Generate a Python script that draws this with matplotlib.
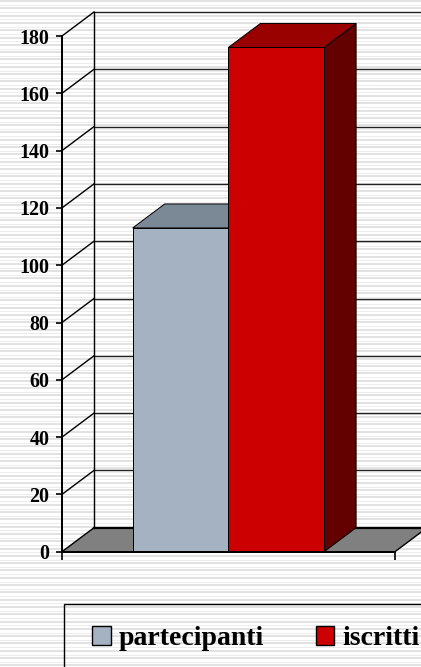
import matplotlib
matplotlib.use("Agg")
import matplotlib.pyplot as plt
from matplotlib.patches import Polygon, Rectangle
from matplotlib.lines import Line2D
import numpy as np

# ---- data ----
series = ["partecipanti", "iscritti"]
values = [113, 176]
yticks = [0, 20, 40, 60, 80, 100, 120, 140, 160, 180]

front_colors = ["#a4b2c1", "#cc0000"]
top_colors = ["#7b8895", "#990000"]
side_colors = ["#6b7682", "#630000"]

W, H, DPI = 421, 667, 100
fig = plt.figure(figsize=(W / DPI, H / DPI), dpi=DPI)
fig.patch.set_facecolor("white")

# striped background
bg = fig.add_axes([0, 0, 1, 1], zorder=-5)
bg.set_xlim(0, W)
bg.set_ylim(H, 0)
bg.axis("off")
for y0 in np.arange(1, H, 7.3):
    bg.axhline(y0, color="#dcdcdc", lw=1.6 * 0.72)
    bg.axhline(y0 + 3.8, color="#ececec", lw=1.0 * 0.72)

# main axes (front plane)
px_left, px_zero, px_top = 62, 551.7, 36.0
cat_px = 333.0
ax = fig.add_axes([px_left / W, (H - px_zero) / H, (W - px_left) / W, (px_zero - px_top) / H])
ax.set_facecolor("none")
ax.set_ylim(0, 180)
ax.set_xlim(0, (W - px_left) / cat_px)
ppu = (px_zero - px_top) / 180.0
DX = 32.0 / cat_px
DY = 24.0 / ppu
XR = 2.0  # beyond right edge

lw = 1.4 * 0.72
# floor
floor = Polygon([(0, 0), (1, 0), (1 + DX, DY), (XR, DY), (XR, DY), (DX, DY)],
                closed=True, facecolor="#808080", edgecolor="black", lw=lw, clip_on=False, zorder=1)
ax.add_patch(floor)
ax.plot([DX, XR], [DY, DY], color="black", lw=2.2 * 0.72, clip_on=False, zorder=1.5)

# walls gridlines
for v in yticks[1:]:
    ax.plot([0, DX], [v, v + DY], color="black", lw=lw, clip_on=False, zorder=1)
    ax.plot([DX, XR], [v + DY, v + DY], color="#222222", lw=lw, clip_on=False, zorder=1)
ax.plot([DX, DX], [DY, 180 + DY], color="black", lw=lw, clip_on=False, zorder=1)

# bars
gap = 70.7 / cat_px
bw = 95.7 / cat_px
for i, (v, fc, tc, sc) in enumerate(zip(values, front_colors, top_colors, side_colors)):
    x0 = gap + i * bw
    x1 = x0 + bw
    z = 3 + i
    ax.add_patch(Polygon([(x1, 0), (x1 + DX, DY), (x1 + DX, v + DY), (x1, v)], closed=True,
                         facecolor=sc, edgecolor="black", lw=1.0 * 0.72, clip_on=False, zorder=z))
    ax.add_patch(Polygon([(x0, v), (x1, v), (x1 + DX, v + DY), (x0 + DX, v + DY)], closed=True,
                         facecolor=tc, edgecolor="black", lw=1.0 * 0.72, clip_on=False, zorder=z))
    ax.add_patch(Rectangle((x0, 0), bw, v, facecolor=fc, edgecolor="black",
                           lw=1.0 * 0.72, clip_on=False, zorder=z))

# axes spines/ticks
for s in ["top", "right"]:
    ax.spines[s].set_visible(False)
ax.spines["left"].set_linewidth(2.0 * 0.72)
ax.spines["left"].set_zorder(6)
ax.spines["bottom"].set_bounds(0, 1)
ax.spines["bottom"].set_linewidth(2.0 * 0.72)
ax.spines["bottom"].set_zorder(6)
ax.set_yticks(yticks)
ax.set_yticklabels([str(t) for t in yticks], fontfamily="Liberation Serif",
                   fontweight="bold", fontsize=14.4)
ax.tick_params(axis="y", direction="out", length=4, width=1.2, pad=5, color="black")
ax.set_xticks([0, 1])
ax.set_xticklabels(["", ""])
ax.tick_params(axis="x", direction="out", length=6, width=1.2, color="black")

# legend
handles = [Rectangle((0, 0), 1, 1, facecolor=c, edgecolor="black", lw=1.0) for c in front_colors]
leg = fig.legend(handles, series, loc="center left",
                 bbox_to_anchor=(92.3 / W, (H - 638.5) / H), bbox_transform=fig.transFigure,
                 ncol=2, frameon=False, borderpad=0, borderaxespad=0,
                 handlelength=0.66, handleheight=0.66, handletextpad=0.27, columnspacing=1.9,
                 prop={"family": "Liberation Serif", "weight": "bold", "size": 20})
fig.patches.append(Rectangle((64 / W, -0.1), 1.0, 0.1 + (H - 604) / H, transform=fig.transFigure,
                             facecolor="none", edgecolor="black", lw=1.4 * 0.72, figure=fig))

fig.savefig("out.png", dpi=DPI)
